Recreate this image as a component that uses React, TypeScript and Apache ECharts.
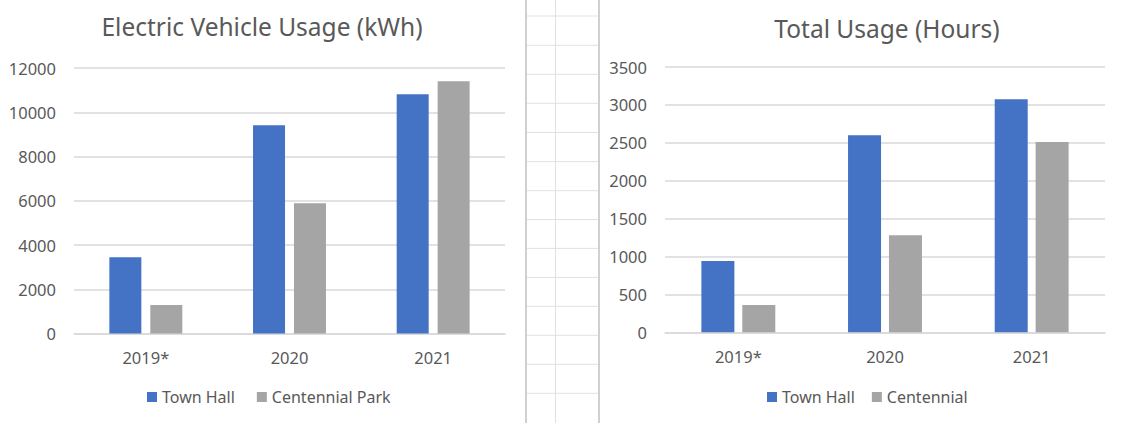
import React, { useEffect, useRef } from "react";
import * as echarts from "echarts";

const categories = ["2019*", "2020", "2021"];

const kwhTitle = "Electric Vehicle Usage (kWh)";
const kwhTownHall = [3450, 9410, 10810];
const kwhCentennialPark = [1290, 5890, 11400];
const kwhTicks = { min: 0, max: 12000, interval: 2000 };

const hoursTitle = "Total Usage (Hours)";
const hoursTownHall = [940, 2600, 3075];
const hoursCentennial = [360, 1280, 2510];
const hoursTicks = { min: 0, max: 3500, interval: 500 };

const BLUE = "#4472C4";
const GRAY = "#A5A5A5";
const TEXT = "#595959";
const GRID = "#D9D9D9";
const FONT = "'Noto Sans', 'Open Sans', sans-serif";

export default function App() {
  const ref = useRef<HTMLDivElement>(null);

  useEffect(() => {
    if (!ref.current) return;
    const chart = echarts.init(ref.current, null, { renderer: "svg" });

    const sheetLines: any[] = [];
    const rowYs = [16, 45.3, 74.3, 103.3, 132.5, 161.6, 190.7, 219.5, 248.4, 277.4, 306.3, 335.3, 364.3, 393.3];
    rowYs.forEach((y) => {
      sheetLines.push({
        type: "line",
        shape: { x1: 526, y1: y, x2: 599, y2: y },
        style: { stroke: "#E1E1E1", lineWidth: 1 },
        silent: true,
      });
    });
    sheetLines.push({
      type: "line",
      shape: { x1: 555.5, y1: 0, x2: 555.5, y2: 423 },
      style: { stroke: "#E1E1E1", lineWidth: 1 },
      silent: true,
    });
    sheetLines.push({
      type: "line",
      shape: { x1: 526, y1: 0, x2: 526, y2: 423 },
      style: { stroke: "#D0D0D0", lineWidth: 2 },
      silent: true,
    });
    sheetLines.push({
      type: "line",
      shape: { x1: 599, y1: 0, x2: 599, y2: 423 },
      style: { stroke: "#D0D0D0", lineWidth: 2 },
      silent: true,
    });

    const axisLabel = (margin: number) => ({
      color: TEXT,
      fontSize: 16.5,
      fontFamily: FONT,
      margin,
      formatter: (v: any) => String(v),
    });

    chart.setOption({
      animation: false,
      backgroundColor: "#FFFFFF",
      textStyle: { fontFamily: FONT },
      graphic: sheetLines,
      title: [
        {
          text: kwhTitle,
          left: 257,
          top: 9,
          textAlign: "center",
          textStyle: { color: TEXT, fontSize: 24.5, fontWeight: "normal", fontFamily: FONT },
        },
        {
          text: hoursTitle,
          left: 882,
          top: 11,
          textAlign: "center",
          textStyle: { color: TEXT, fontSize: 24.5, fontWeight: "normal", fontFamily: FONT },
        },
      ],
      legend: [
        {
          data: ["Town Hall", "Centennial Park"],
          left: 147,
          top: 389,
          padding: 0,
          itemWidth: 10,
          itemHeight: 10,
          itemGap: 22,
          icon: "rect",
          textStyle: { color: TEXT, fontSize: 16, fontFamily: FONT },
        },
        {
          data: ["Town Hall", "Centennial"],
          left: 767,
          top: 389,
          padding: 0,
          itemWidth: 10,
          itemHeight: 10,
          itemGap: 17,
          icon: "rect",
          textStyle: { color: TEXT, fontSize: 16, fontFamily: FONT },
        },
      ],
      grid: [
        { left: 74, top: 68, width: 431, height: 265.5 },
        { left: 665, top: 67, width: 440, height: 265.3 },
      ],
      xAxis: [
        {
          type: "category",
          gridIndex: 0,
          data: categories,
          axisLine: { lineStyle: { color: GRID, width: 1.5 } },
          axisTick: { show: false },
          axisLabel: axisLabel(15),
        },
        {
          type: "category",
          gridIndex: 1,
          data: categories,
          axisLine: { lineStyle: { color: GRID, width: 1.5 } },
          axisTick: { show: false },
          axisLabel: axisLabel(16),
        },
      ],
      yAxis: [
        {
          type: "value",
          gridIndex: 0,
          min: kwhTicks.min,
          max: kwhTicks.max,
          interval: kwhTicks.interval,
          axisLine: { show: false },
          axisTick: { show: false },
          splitLine: { lineStyle: { color: GRID, width: 1.5 } },
          axisLabel: axisLabel(18),
        },
        {
          type: "value",
          gridIndex: 1,
          min: hoursTicks.min,
          max: hoursTicks.max,
          interval: hoursTicks.interval,
          axisLine: { show: false },
          axisTick: { show: false },
          splitLine: { lineStyle: { color: GRID, width: 1.5 } },
          axisLabel: axisLabel(18),
        },
      ],
      series: [
        {
          name: "Town Hall",
          type: "bar",
          xAxisIndex: 0,
          yAxisIndex: 0,
          data: kwhTownHall,
          barWidth: 32,
          barGap: "28%",
          itemStyle: { color: BLUE },
        },
        {
          name: "Centennial Park",
          type: "bar",
          xAxisIndex: 0,
          yAxisIndex: 0,
          data: kwhCentennialPark,
          barWidth: 32,
          barGap: "28%",
          itemStyle: { color: GRAY },
        },
        {
          name: "Town Hall",
          type: "bar",
          xAxisIndex: 1,
          yAxisIndex: 1,
          data: hoursTownHall,
          barWidth: 33,
          barGap: "24%",
          itemStyle: { color: BLUE },
        },
        {
          name: "Centennial",
          type: "bar",
          xAxisIndex: 1,
          yAxisIndex: 1,
          data: hoursCentennial,
          barWidth: 33,
          barGap: "24%",
          itemStyle: { color: GRAY },
        },
      ],
    });

    return () => chart.dispose();
  }, []);

  return (
    <div
      ref={ref}
      style={{ position: "fixed", left: 0, top: 0, width: 1123, height: 423, background: "#fff" }}
    />
  );
}
